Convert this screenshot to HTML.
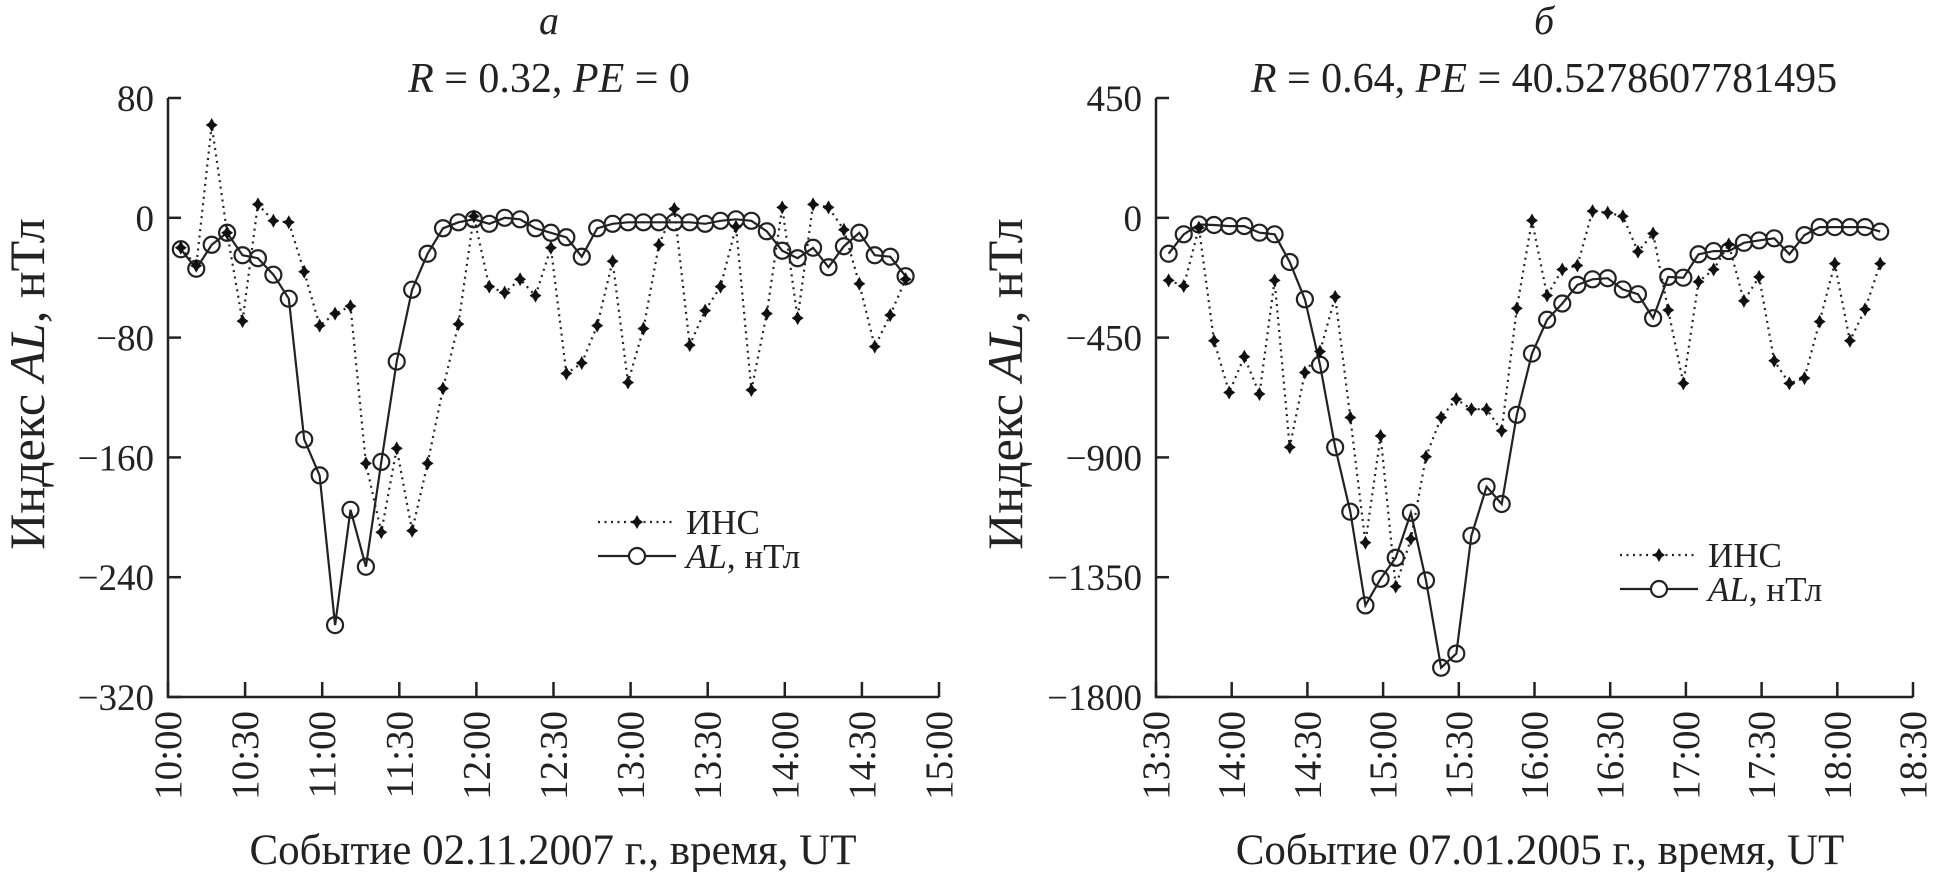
<!DOCTYPE html>
<html><head><meta charset="utf-8">
<style>
html,body{margin:0;padding:0;background:#fff;}
svg{display:block;font-family:"Liberation Serif","DejaVu Serif",serif;}
</style></head>
<body>
<svg id="fig" width="1941" height="872" viewBox="0 0 1941 872" xmlns="http://www.w3.org/2000/svg"></svg>
<script>
// ---- Panel a data (event 02.11.2007), 6-min steps from 10:05 ----
const timesA = [5,11,17,23,29,35,41,47,53,59,65,71,77,83,89,95,101,107,113,119,125,131,137,143,149,155,161,167,173,179,185,191,197,203,209,215,221,227,233,239,245,251,257,263,269,275,281,287];
const alA = [-21,-34,-18,-10,-25,-27,-38,-54,-148,-172,-272,-195,-233,-163,-96,-48,-24,-7,-3,-1,-4,0,-1,-7,-10,-13,-26,-7,-4,-3,-3,-3,-3,-3,-4,-2,-1,-2,-9,-22,-27,-20,-33,-19,-10,-25,-26,-39];
const insA = [-20,-32,62,-10,-69,9,-2,-3,-36,-72,-64,-59,-164,-210,-154,-209,-164,-114,-71,1,-46,-50,-41,-52,-20,-104,-97,-72,-29,-110,-74,-18,6,-85,-62,-46,-6,-115,-64,7,-67,9,7,-8,-44,-86,-65,-41];
const yTicksA = [80,0,-80,-160,-240,-320];
// ---- Panel b data (event 07.01.2005), 6-min steps from 13:35 ----
const timesB = [5,11,17,23,29,35,41,47,53,59,65,71,77,83,89,95,101,107,113,119,125,131,137,143,149,155,161,167,173,179,185,191,197,203,209,215,221,227,233,239,245,251,257,263,269,275,281,287];
const alB = [-135,-62,-25,-27,-31,-31,-56,-62,-166,-306,-552,-862,-1104,-1456,-1356,-1277,-1108,-1362,-1690,-1637,-1194,-1010,-1075,-740,-510,-383,-322,-252,-231,-227,-269,-287,-377,-222,-225,-137,-125,-125,-94,-85,-77,-137,-65,-35,-35,-35,-35,-52];
const insB = [-235,-256,-37,-462,-656,-522,-662,-235,-862,-581,-502,-297,-750,-1220,-819,-1385,-1206,-897,-750,-681,-719,-719,-800,-340,-10,-292,-194,-179,25,19,6,-127,-59,-347,-622,-240,-194,-100,-312,-222,-537,-622,-602,-390,-172,-462,-344,-172];
const yTicksB = [450,0,-450,-900,-1350,-1800];
const xTickLabelsA = ["10:00","10:30","11:00","11:30","12:00","12:30","13:00","13:30","14:00","14:30","15:00"];
const xTickLabelsB = ["13:30","14:00","14:30","15:00","15:30","16:00","16:30","17:00","17:30","18:00","18:30"];

const NS="http://www.w3.org/2000/svg";
const svg=document.getElementById('fig');
function mk(tag,attrs,parent){const e=document.createElementNS(NS,tag);for(const k in attrs)e.setAttribute(k,attrs[k]);(parent||svg).appendChild(e);return e;}

function panel(cfg){
  const g=mk('g',{});
  
  
  const x0=cfg.x0,x1=cfg.x1,yTop=98,yBot=697;
  const ymax=cfg.yTicks[0],ymin=cfg.yTicks[cfg.yTicks.length-1];
  const sx=t=>x0+(x1-x0)*t/300;
  const sy=v=>yTop+(yBot-yTop)*(ymax-v)/(ymax-ymin);
  const ax=mk('path',{d:`M${x0},${yTop}V${yBot}H${x1}`,stroke:'#222','stroke-width':2.5,fill:'none'},g);
  
  
  cfg.yTicks.forEach(v=>{
    const y=sy(v);
    mk('line',{x1:x0,x2:x0+13,y1:y,y2:y,stroke:'#222','stroke-width':2.5},g);
    const t=mk('text',{x:x0-14,y:y+13,'text-anchor':'end','font-size':37,fill:'#222'},g);
    t.textContent=(v<0?'\u2212'+(-v):String(v));
    
    
  });
  cfg.xLabels.forEach((lab,i)=>{
    const x=sx(i*30);
    mk('line',{x1:x,x2:x,y1:yBot,y2:yBot-15,stroke:'#222','stroke-width':2.5},g);
    const t=mk('text',{x:0,y:0,transform:`translate(${x+13},${yBot+14}) rotate(-90)`,'text-anchor':'end','font-size':39,fill:'#222'},g);
    t.textContent=lab;
    
    
  });
  const pIns=cfg.ins.map((v,i)=>`${sx(cfg.times[i]).toFixed(1)},${sy(v).toFixed(1)}`).join(' ');
  const li=mk('polyline',{points:pIns,fill:'none',stroke:'#222','stroke-width':2.2,'stroke-dasharray':'2 4.5'},g);
  
  
  const pAl=cfg.al.map((v,i)=>`${sx(cfg.times[i]).toFixed(1)},${sy(v).toFixed(1)}`).join(' ');
  const la=mk('polyline',{points:pAl,fill:'none',stroke:'#222','stroke-width':2.2},g);
  
  
  cfg.al.forEach((v,i)=>{
    const c=mk('circle',{cx:sx(cfg.times[i]),cy:sy(v),r:8,fill:'none',stroke:'#222','stroke-width':2.2},g);
    
    
  });
  cfg.ins.forEach((v,i)=>{
    const x=sx(cfg.times[i]),y=sy(v);
    const d=mk('path',{d:`M${x},${y-7}L${x+2.5},${y-2.5}L${x+6},${y}L${x+2.5},${y+2.5}L${x},${y+7}L${x-2.5},${y+2.5}L${x-6},${y}L${x-2.5},${y-2.5}Z`,fill:'#111'},g);
    
    
  });
  const t1=mk('text',{x:cfg.cx,y:34,'text-anchor':'middle','font-size':40,'font-style':'italic',fill:'#222'},g);
  t1.textContent=cfg.letter;
  
  
  const t2=mk('text',{x:cfg.cx,y:92,'text-anchor':'middle','font-size':42,fill:'#222'},g);
  t2.innerHTML=cfg.title;
  
  
  const yt=mk('text',{x:0,y:0,transform:`translate(${cfg.ytx},384) rotate(-90)`,'text-anchor':'middle','font-size':50,fill:'#222'},g);
  yt.innerHTML='Индекс <tspan font-style="italic">AL</tspan>, нТл';
  
  
  const xt=mk('text',{x:cfg.xcx,y:864,'text-anchor':'middle','font-size':43,fill:'#222'},g);
  xt.textContent=cfg.xtitle;
  
  
  const lg=mk('g',{},g);
  
  
  const lx=cfg.lx,ly=cfg.ly;
  mk('line',{x1:lx,x2:lx+78,y1:ly,y2:ly,stroke:'#222','stroke-width':2.2,'stroke-dasharray':'2 4.5'},lg);
  const cx=lx+39;
  mk('path',{d:`M${cx},${ly-7}L${cx+2.5},${ly-2.5}L${cx+6},${ly}L${cx+2.5},${ly+2.5}L${cx},${ly+7}L${cx-2.5},${ly+2.5}L${cx-6},${ly}L${cx-2.5},${ly-2.5}Z`,fill:'#111'},lg);
  const e1=mk('text',{x:lx+88,y:ly+12,'font-size':35,fill:'#222'},lg);
  e1.textContent='ИНС';
  
  
  const ly2=ly+34;
  mk('line',{x1:lx,x2:lx+78,y1:ly2,y2:ly2,stroke:'#222','stroke-width':2.2},lg);
  mk('circle',{cx:cx,cy:ly2,r:8,fill:'#fff',stroke:'#222','stroke-width':2.2},lg);
  const e2=mk('text',{x:lx+88,y:ly2+12,'font-size':35,fill:'#222'},lg);
  e2.innerHTML='<tspan font-style="italic">AL</tspan>, нТл';
  
  
}

panel({name:'panel-a',x0:168,x1:939,yTicks:yTicksA,xLabels:xTickLabelsA,times:timesA,al:alA,ins:insA,
  letter:'а',title:'<tspan font-style="italic">R</tspan> = 0.32, <tspan font-style="italic">PE</tspan> = 0',cx:549,ytx:44,
  xtitle:'Событие 02.11.2007 г., время, UT',xcx:553,lx:598,ly:522});
panel({name:'panel-b',x0:1156,x1:1913,yTicks:yTicksB,xLabels:xTickLabelsB,times:timesB,al:alB,ins:insB,
  letter:'б',title:'<tspan font-style="italic">R</tspan> = 0.64, <tspan font-style="italic">PE</tspan> = 40.5278607781495',cx:1544,ytx:1022,
  xtitle:'Событие 07.01.2005 г., время, UT',xcx:1540,lx:1620,ly:555});
</script>
</body></html>
